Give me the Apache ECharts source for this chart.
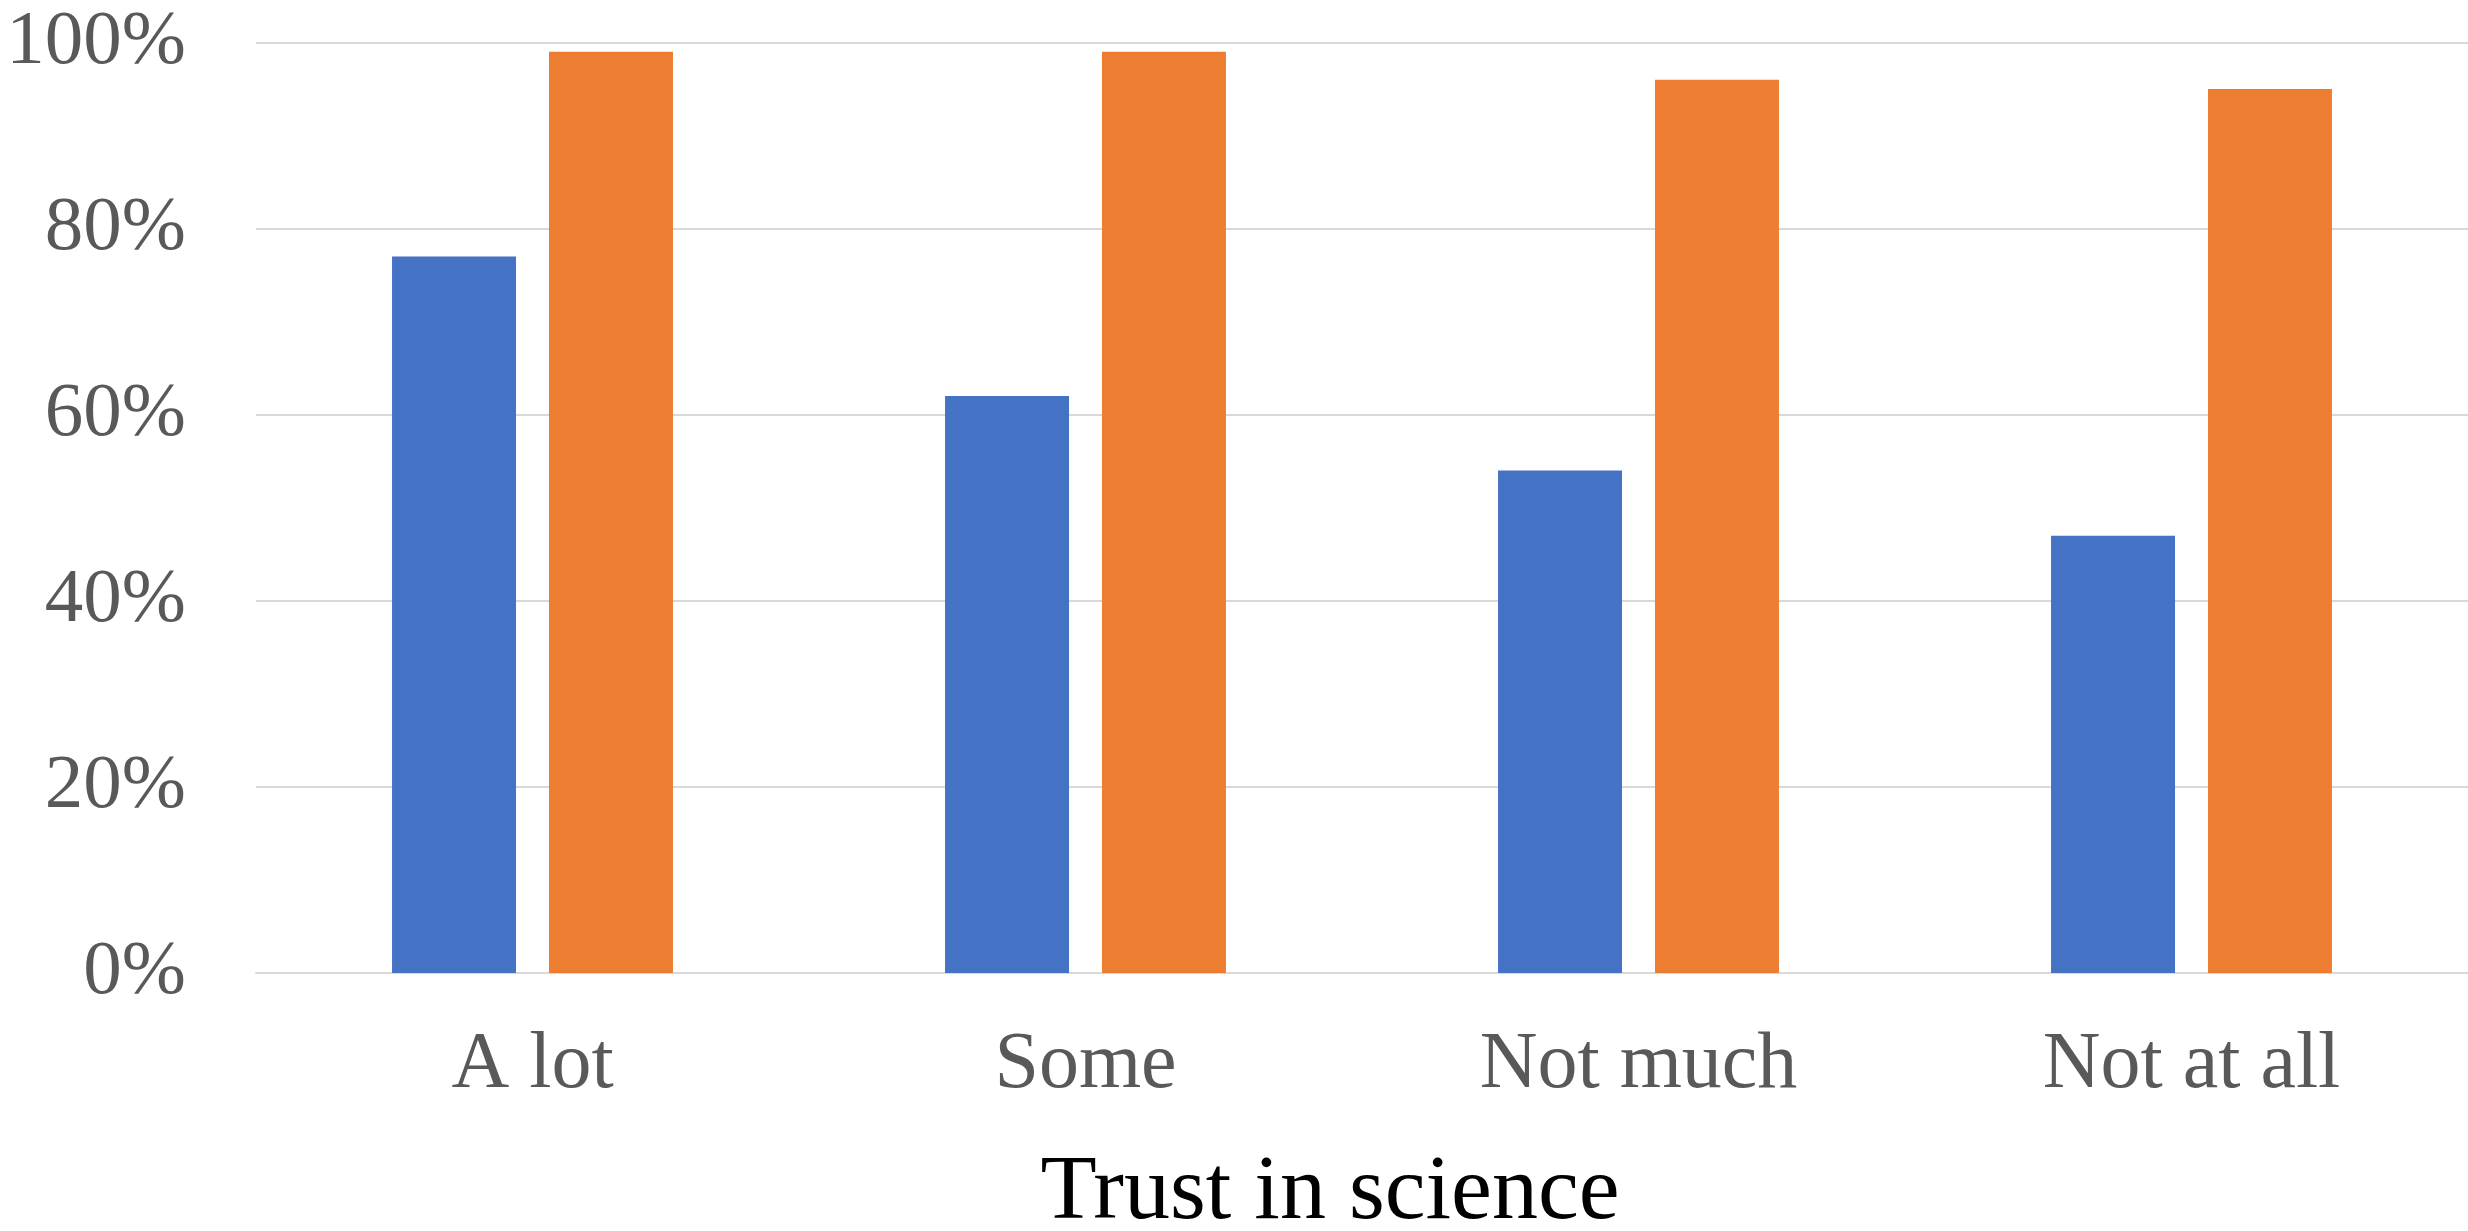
<!DOCTYPE html>
<html>
<head>
<meta charset="utf-8">
<script src="https://cdn.jsdelivr.net/npm/echarts@6/dist/echarts.min.js"></script>
<style>
  html, body { margin: 0; padding: 0; background: #ffffff; }
  #chart { width: 2468px; height: 1231px; }
</style>
</head>
<body>
<div id="chart"></div>
<script>
// Trust in science categories and the two series of shares (percent)
const categories = ['A lot', 'Some', 'Not much', 'Not at all'];
const seriesA = [77, 62, 54, 47];
const seriesB = [99, 99, 96, 95];
const yTicks = [0, 20, 40, 60, 80, 100];

const FONT = '"Liberation Serif", "DejaVu Serif", serif';
const chart = echarts.init(document.getElementById('chart'), null, { renderer: 'canvas' });

chart.setOption({
  backgroundColor: '#ffffff',
  animation: false,
  grid: {
    left: 256, right: 0, top: 42.5, bottom: 258,
    containLabel: false,
    outerBoundsMode: 'none'
  },
  xAxis: {
    type: 'category',
    data: categories,
    axisLine: { show: true, lineStyle: { color: '#D9D9D9', width: 2 } },
    axisTick: { show: false },
    axisLabel: { color: '#595959', fontFamily: FONT, fontSize: 80, margin: 53 },
    name: 'Trust in science',
    nameLocation: 'middle',
    nameGap: 175,
    nameTextStyle: { color: '#000000', fontFamily: FONT, fontSize: 92, padding: [0, 64, 0, 0] }
  },
  yAxis: {
    type: 'value',
    min: yTicks[0],
    max: yTicks[yTicks.length - 1],
    interval: 20,
    axisLine: { show: false },
    axisTick: { show: false },
    splitLine: { show: true, lineStyle: { color: '#D9D9D9', width: 2 } },
    axisLabel: {
      color: '#595959', fontFamily: FONT, fontSize: 77, margin: 70,
      formatter: v => v + '%'
    }
  },
  series: [
    {
      type: 'bar',
      data: seriesA,
      itemStyle: { color: '#4472C4' },
      barCategoryGap: '49.2%',
      barGap: '26.6%'
    },
    {
      type: 'bar',
      data: seriesB,
      itemStyle: { color: '#ED7D31' },
      barCategoryGap: '49.2%',
      barGap: '26.6%'
    }
  ]
});
</script>
</body>
</html>
